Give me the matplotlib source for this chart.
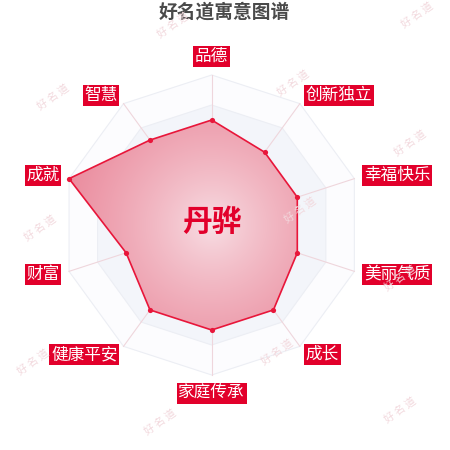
import numpy as np
import matplotlib
matplotlib.use('Agg')
import matplotlib.pyplot as plt
from matplotlib.patches import Polygon

plt.rcParams['font.family'] = ['Noto Sans CJK SC', 'DejaVu Sans']

# data
title = '好名道寓意图谱'
name = '丹骅'
categories = ['品德', '创新独立', '幸福快乐', '美丽气质', '成长',
              '家庭传承', '健康平安', '财富', '成就', '智慧']
values = [7, 6, 6, 6, 7, 7, 7, 6, 10, 7]
max_value = 10
rings = [2, 4, 6, 8, 10]
watermark_spots = [(173, 25), (417, 15), (53, 97), (293, 83), (410, 143),
                   (40, 228), (300, 210), (400, 278), (277, 352),
                   (33, 362), (160, 422), (400, 410)]

RED = '#e2002b'
W, H = 450, 450
cx_px, cy_px, R_px = 211.7, 225, 150

fig = plt.figure(figsize=(4.5, 4.5), dpi=100)
ax = fig.add_axes([0, 0, 1, 1])
ax.set_xlim(-cx_px / R_px, (W - cx_px) / R_px)
ax.set_ylim(-(H - cy_px) / R_px, cy_px / R_px)
ax.set_aspect('equal')
ax.axis('off')

n = len(categories)
angles = np.pi / 2 - np.arange(n) * 2 * np.pi / n
ux, uy = np.cos(angles), np.sin(angles)

# background bands, outer first
band_colors = ['#fcfcfe', '#f3f5fa']
for i, rv in enumerate(reversed(rings)):
    r = rv / max_value
    ax.add_patch(Polygon(np.c_[ux * r, uy * r], closed=True,
                         facecolor=band_colors[i % 2], edgecolor='#eceef4',
                         linewidth=0.8, zorder=1))
# spokes
for x, y in zip(ux, uy):
    ax.plot([0, x], [0, y], color='#efd6dc', linewidth=0.8, zorder=2)

# data polygon with radial gradient
rv = np.array(values) / max_value
px, py = ux * rv, uy * rv
poly = Polygon(np.c_[px, py], closed=True, facecolor='none',
               edgecolor='#e8163a', linewidth=1.2, zorder=5)
ax.add_patch(poly)
gx, gy = np.meshgrid(np.linspace(-1, 1, 300), np.linspace(-1, 1, 300))
t = np.clip(np.hypot(gx, gy), 0, 1) ** 0.75
c0 = np.array([0.975, 0.89, 0.91])
c1 = np.array([0.92, 0.55, 0.62])
img = c0[None, None, :] + t[..., None] * (c1 - c0)[None, None, :]
im = ax.imshow(img, extent=[-1, 1, -1, 1], origin='lower', zorder=4,
               interpolation='bilinear')
im.set_clip_path(poly)
ax.scatter(px, py, s=14, color='#e8163a', zorder=6, linewidths=0)

# category labels
lr = 160 / R_px
for lab, a, x, y in zip(categories, angles, ux, uy):
    if abs(x) < 1e-6:
        ha = 'center'
        va = 'bottom' if y > 0 else 'top'
    else:
        ha = 'left' if x > 0 else 'right'
        va = 'center'
    ax.text(x * lr, y * lr, lab, ha=ha, va=va, color='white', fontsize=12,
            zorder=8,
            bbox=dict(boxstyle='square,pad=0.1', facecolor=RED,
                      edgecolor='none'))

# name in the centre
ax.text(0, 0.02, name, ha='center', va='center', color=RED, fontsize=21.5,
        fontweight='bold', zorder=9)

fig.text(224 / W, 1 - 12 / H, title, ha='center', va='center',
         fontsize=13.5, fontweight='bold', color='#4a4a4a')

for x, y in watermark_spots:
    fig.text(x / W, 1 - y / H, '好 名 道', ha='center', va='center',
             fontsize=7.5, color='#f2d8dd', rotation=35, zorder=10)

fig.savefig('out.png', dpi=100, facecolor='white')
